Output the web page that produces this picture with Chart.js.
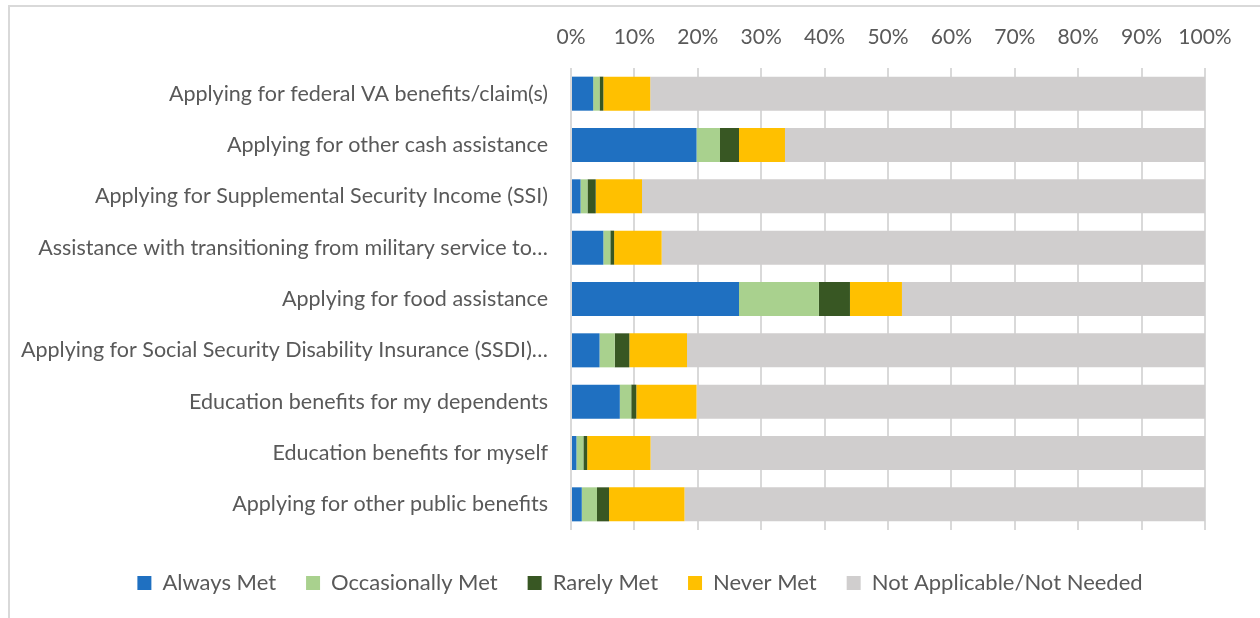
<!DOCTYPE html>
<html><head><meta charset="utf-8">
<script src="https://cdn.jsdelivr.net/npm/chart.js@4/dist/chart.umd.min.js"></script>
<style>
html,body{margin:0;padding:0;background:#fff;overflow:hidden}
#wrap{position:relative;width:1260px;height:618px;overflow:hidden}
#frame{position:absolute;left:8px;top:5px;width:1300px;height:700px;border:2px solid #d9d9d9;box-sizing:border-box}
canvas{position:absolute;left:0;top:0}
</style></head><body>
<div id="wrap"><div id="frame"></div><canvas id="c" width="1260" height="618"></canvas></div>
<script>
const categories = [
  "Applying for federal VA benefits/claim(s)",
  "Applying for other cash assistance",
  "Applying for Supplemental Security Income (SSI)",
  "Assistance with transitioning from military service to\u2026",
  "Applying for food assistance",
  "Applying for Social Security Disability Insurance (SSDI)\u2026",
  "Education benefits for my dependents",
  "Education benefits for myself",
  "Applying for other public benefits"
];
const seriesNames = ["Always Met", "Occasionally Met", "Rarely Met", "Never Met", "Not Applicable/Not Needed"];
const alwaysMet       = [3.5, 19.8, 1.5, 5.1, 26.5, 4.5, 7.7, 0.85, 1.7];
const occasionallyMet = [1.0, 3.7, 1.1, 1.1, 12.6, 2.4, 1.8, 1.1, 2.4];
const rarelyMet       = [0.6, 3.0, 1.3, 0.6, 4.9, 2.3, 0.8, 0.6, 1.9];
const neverMet        = [7.4, 7.25, 7.3, 7.5, 8.2, 9.1, 9.5, 10.0, 11.9];
const notApplicable   = [87.5, 66.25, 88.8, 85.7, 47.8, 81.7, 80.2, 87.45, 82.1];
const tickLabels = ["0%","10%","20%","30%","40%","50%","60%","70%","80%","90%","100%"];
const colors = ["#1F70C1", "#A9D18E", "#385723", "#FFC000", "#D0CECE"];

const seriesValues = [alwaysMet, occasionallyMet, rarelyMet, neverMet, notApplicable];
const FONT = "Lato";
const TXT = "#595959";

new Chart(document.getElementById('c'), {
  type: 'bar',
  data: {
    labels: categories,
    datasets: seriesNames.map((n, i) => ({
      label: n,
      data: seriesValues[i],
      backgroundColor: colors[i],
      borderWidth: 0,
      barPercentage: 0.663,
      categoryPercentage: 1.0
    }))
  },
  options: {
    indexAxis: 'y',
    responsive: false,
    animation: false,
    layout: { padding: { left: 20, right: 0, top: 8, bottom: 14 } },
    scales: {
      x: {
        position: 'top',
        stacked: true,
        min: 0, max: 100,
        ticks: {
          stepSize: 10,
          padding: 18,
          color: TXT,
          font: { family: FONT, size: 21 },
          callback: (v) => tickLabels[Math.round(v / 10)]
        },
        grid: { color: "#d9d9d9", lineWidth: 2, drawTicks: false },
        border: { display: false },
        afterFit: (s) => { s.height = 60; }
      },
      xPad: {
        type: 'linear',
        position: 'bottom',
        display: true,
        ticks: { display: false },
        grid: { display: false, drawTicks: false },
        border: { display: false },
        afterFit: (s) => { s.height = 12; }
      },
      y: {
        stacked: true,
        ticks: {
          padding: 15,
          color: TXT,
          font: { family: FONT, size: 21.5 },
          autoSkip: false
        },
        grid: { display: false },
        border: { display: false },
        afterFit: (s) => { s.width = 551; }
      },
      yPad: {
        type: 'category',
        position: 'right',
        display: true,
        ticks: { display: false },
        grid: { display: false, drawTicks: false },
        border: { display: false },
        afterFit: (s) => { s.width = 55; }
      }
    },
    plugins: {
      legend: {
        position: 'bottom',
        labels: {
          boxWidth: 14, boxHeight: 14,
          padding: 30,
          color: TXT,
          font: { family: FONT, size: 22 }
        }
      },
      tooltip: { enabled: false }
    }
  }
});
</script>
</body></html>
